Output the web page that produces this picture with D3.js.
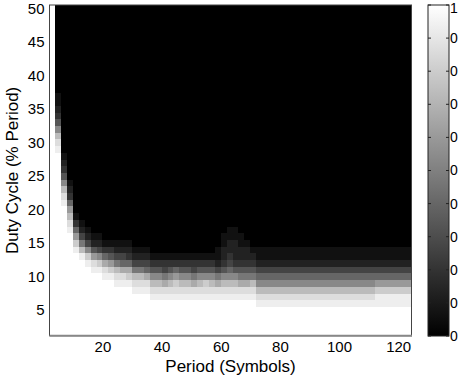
<!DOCTYPE html>
<html><head><meta charset="utf-8">
<script src="https://cdn.jsdelivr.net/npm/d3@7"></script>
<style>html,body{margin:0;padding:0;background:#fff;overflow:hidden}svg{display:block}</style>
</head><body><svg id="chart" width="458" height="382"></svg>
<script>
// ---- data ----
const periods = [3,5,7,9,11,13,15,17,19,21,23,25,27,29,31,33,35,37,39,41,43,45,47,49,51,53,55,57,59,61,63,65,67,69,71,73,75,77,79,81,83,85,87,89,91,93,95,97,99,101,103,105,107,109,111,113,115,117,119,121,123];
const dutyCycles = [2,3,4,5,6,7,8,9,10,11,12,13,14,15,16,17,18,19,20,21,22,23,24,25,26,27,28,29,30,31,32,33,34,35,36,37,38,39,40,41,42,43,44,45,46,47,48,49,50];
// number of fully white (value 1) duty-cycle rows at the bottom of each period column
const whiteRows = [49,27,19,15,12,11,10,9,9,8,8,7,7,7,6,6,6,5,5,5,5,5,5,5,5,5,5,5,5,5,5,5,5,5,5,4,4,4,4,4,4,4,4,4,4,4,4,4,4,4,4,4,4,4,4,4,4,4,4,4,4];
// gray levels (hex 0=black .. f=white) of the rows above the white ones; higher rows are black
const grayRamps = [
"","edb853211","edb85321","edb96321","ec9631","eb7421","ec8421","ed9521","ec8421","eda631",
"ec9531","edb7421","eda6421","eca6321","edb7421","edb7421","eda6421","edb8531","edb8531","eda7431",
"edb8531","edc9631","edb8531","edb8531","eda7431","edb8531","edc8531","edb8531","eda74211","edb8532211",
"edb86432211","edb85322211","eda7532211","eda753221","edb75321","edb864211","edb864211","edb864211","edb864211","edb864211",
"edb864211","edb864211","edb864211","edb864211","edb864211","edb864211","edb864211","edb864211","edb864211","edb864211",
"edb864211","edb864211","edb864211","edb864211","edb864211","eec964211","eec964211","eec964211","eec964211","eec964211",
"eec964211"];
const xTicks = [20,40,60,80,100,120];
const yTicks = [5,10,15,20,25,30,35,40,45,50];
const colorbarTicks = [0,0.1,0.2,0.3,0.4,0.5,0.6,0.7,0.8,0.9,1];
// the reference shows only the first character of each colorbar label
const colorbarLabels = ["0","0","0","0","0","0","0","0","0","0","1"];

// ---- layout ----
const svg = d3.select("#chart");
const plot = {left:49.5, right:411.5, top:5, bottom:335.7};
const xDomain = [2.1,124.5], yDomain = [1.15,50.5];
const xScale = d3.scaleLinear().domain(xDomain).range([plot.left, plot.right]);
const yScale = d3.scaleLinear().domain(yDomain).range([plot.bottom, plot.top]);
const gray = d3.scaleLinear().domain([0,1]).range(["#000000","#ffffff"]);
const font = "'Liberation Sans', Arial, Helvetica, sans-serif";

const cells = [];
periods.forEach((p,c) => {
  dutyCycles.forEach((d,r) => {
    let v;
    if (r < whiteRows[c]) v = 1;
    else {
      const k = r - whiteRows[c];
      v = k < grayRamps[c].length ? parseInt(grayRamps[c][k],16)/15 : 0;
    }
    const x0 = c === 0 ? xDomain[0] : p - 1;
    const x1 = c === periods.length-1 ? xDomain[1] : p + 1;
    const y0 = r === 0 ? yDomain[0] : d - 0.5;
    const y1 = d + 0.5;
    cells.push({x0,x1,y0,y1,v});
  });
});

svg.append("g").selectAll("rect").data(cells).join("rect")
  .attr("x", d => xScale(d.x0))
  .attr("y", d => yScale(d.y1))
  .attr("width", d => xScale(d.x1) - xScale(d.x0) + 0.4)
  .attr("height", d => yScale(d.y0) - yScale(d.y1) + 0.4)
  .attr("fill", d => gray(d.v))
  .attr("shape-rendering","crispEdges");

// box
svg.append("rect").attr("x",plot.left).attr("y",plot.top)
  .attr("width",plot.right-plot.left).attr("height",plot.bottom-plot.top)
  .attr("fill","none").attr("stroke","#444").attr("stroke-width",1);
svg.append("line").attr("x1",plot.left).attr("x2",plot.right+0.5)
  .attr("y1",plot.bottom).attr("y2",plot.bottom).attr("stroke","#888").attr("stroke-width",2);

// axes
const xAxis = svg.append("g").attr("transform",`translate(0,${plot.bottom})`)
  .call(d3.axisBottom(xScale).tickValues(xTicks).tickSize(0).tickPadding(6).tickFormat(d3.format("d")));
const yAxis = svg.append("g").attr("transform",`translate(${plot.left},0)`)
  .call(d3.axisLeft(yScale).tickValues(yTicks).tickSize(0).tickPadding(5).tickFormat(d3.format("d")));
[xAxis,yAxis].forEach(a => {
  a.select(".domain").remove();
  a.selectAll("text").attr("font-family",font).attr("font-size",15).attr("fill","#000");
});

// titles
svg.append("text").attr("x",(plot.left+plot.right)/2).attr("y",372)
  .attr("text-anchor","middle").attr("font-family",font).attr("font-size",17).text("Period (Symbols)");
svg.append("text").attr("transform",`translate(18,${(plot.top+plot.bottom)/2}) rotate(-90)`)
  .attr("text-anchor","middle").attr("font-family",font).attr("font-size",17).text("Duty Cycle (% Period)");

// colorbar
const cb = {left:428, right:449, top:5, bottom:336};
const cbScale = d3.scaleLinear().domain([0,1]).range([cb.bottom, cb.top]);
const defs = svg.append("defs");
const grad = defs.append("linearGradient").attr("id","cbgrad").attr("x1",0).attr("y1",1).attr("x2",0).attr("y2",0);
grad.selectAll("stop").data(colorbarTicks).join("stop")
  .attr("offset", d => d).attr("stop-color", d => gray(d));
svg.append("rect").attr("x",cb.left).attr("y",cb.top).attr("width",cb.right-cb.left).attr("height",cb.bottom-cb.top)
  .attr("fill","url(#cbgrad)").attr("stroke","#222").attr("stroke-width",1);
const cbt = svg.append("g");
cbt.selectAll("line.l").data(colorbarTicks).join("line").attr("class","l")
  .attr("x1",cb.left).attr("x2",cb.left+3).attr("y1",d=>cbScale(d)).attr("y2",d=>cbScale(d))
  .attr("stroke","#222");
cbt.selectAll("line.r").data(colorbarTicks).join("line").attr("class","r")
  .attr("x1",cb.right-3).attr("x2",cb.right).attr("y1",d=>cbScale(d)).attr("y2",d=>cbScale(d))
  .attr("stroke","#222");
cbt.selectAll("text").data(colorbarTicks).join("text")
  .attr("x",cb.right+1).attr("y",d=>Math.max(cbScale(d), 8.5)).attr("dy","0.35em")
  .attr("font-family",font).attr("font-size",14)
  .text((d,i)=>colorbarLabels[i]);
</script>
</body></html>
